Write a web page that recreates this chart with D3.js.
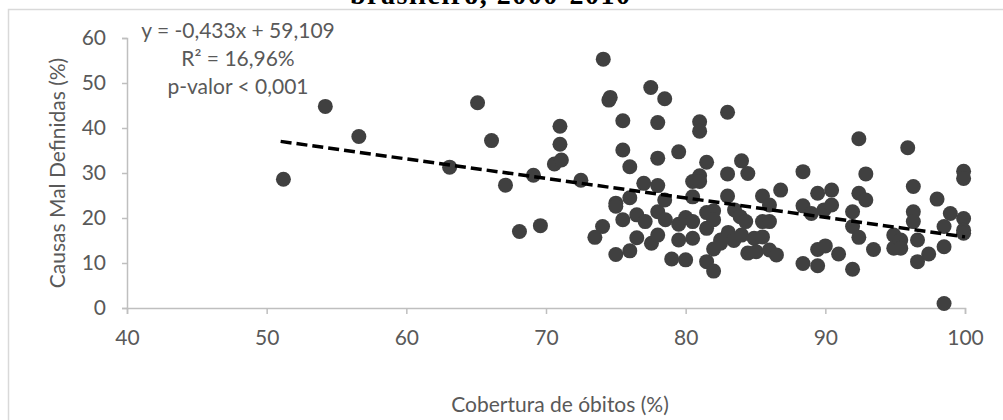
<!DOCTYPE html>
<html>
<head>
<meta charset="utf-8">
<script src="https://cdn.jsdelivr.net/npm/d3@7"></script>
<style>
  body { margin: 0; background: #fff; }
  svg { display: block; }
</style>
</head>
<body>
<svg id="svg" width="1003" height="420"></svg>
<script>
// cobertura de óbitos (%) x causas mal definidas (%)
const cobertura = [
  51.2, 54.2, 56.6, 63.1, 65.1, 66.1, 67.1, 68.1, 69.1, 69.6,
  70.6, 71.1, 71.0, 71.0, 72.5, 73.5, 74.05, 74.1, 74.5, 74.6,
  75.0, 75.0, 75.0, 75.5, 75.5, 75.5, 76.0, 76.0, 76.0, 76.5,
  76.5, 77.1, 77.0, 77.5, 77.55, 78.0, 78.0, 78.0, 78.0, 78.0,
  78.5, 78.5, 78.55, 79.0, 79.5, 79.5, 79.5, 80.0, 80.0, 80.5,
  80.5, 80.5, 80.5, 81.0, 81.0, 81.0, 81.0, 81.5, 81.5, 81.5,
  81.5, 82.0, 82.0, 82.0, 82.0, 82.5, 82.5, 83.0, 83.0, 83.0,
  83.05, 83.45, 83.5, 83.9, 84.0, 84.0, 84.3, 84.45, 84.45, 84.9,
  85.05, 85.5, 85.5, 85.5, 86.0, 86.0, 86.0, 86.5, 86.8, 88.4,
  88.4, 88.4, 89.0, 89.45, 89.45, 89.45, 89.9, 90.0, 90.45, 90.45,
  90.95, 91.95, 91.95, 91.95, 92.4, 92.4, 92.4, 92.9, 92.9, 93.45,
  94.9, 94.9, 95.4, 95.4, 95.9, 96.3, 96.3, 96.3, 96.6, 96.6,
  97.4, 98.0, 98.95, 98.5, 98.5, 98.5, 99.9, 99.9, 99.9, 99.9,
  99.9
];
const malDefinidas = [
  28.6, 44.8, 38.1, 31.3, 45.6, 37.2, 27.3, 17.0, 29.5, 18.3,
  32.0, 32.9, 36.4, 40.4, 28.4, 15.7, 18.1, 55.3, 46.2, 46.8,
  23.3, 22.6, 11.9, 41.6, 35.1, 19.6, 31.4, 24.5, 12.7, 20.7,
  15.6, 19.2, 27.7, 49.0, 14.4, 41.2, 33.3, 27.2, 21.4, 16.2,
  46.5, 24.0, 19.6, 10.9, 34.7, 18.6, 15.1, 20.1, 10.7, 28.1,
  24.7, 19.2, 15.5, 41.4, 39.3, 29.4, 28.1, 32.4, 21.2, 17.7,
  10.3, 21.6, 19.6, 13.1, 8.2, 15.1, 14.4, 43.5, 29.8, 24.9,
  16.8, 15.0, 21.8, 20.3, 32.7, 16.2, 19.2, 29.9, 12.2, 15.5,
  12.5, 24.9, 19.2, 15.8, 19.2, 22.9, 12.9, 11.8, 26.2, 30.3,
  22.7, 9.9, 21.0, 25.5, 13.0, 9.4, 21.8, 13.8, 26.2, 22.9,
  12.0, 21.4, 18.1, 8.6, 37.6, 25.5, 15.7, 29.8, 24.0, 13.0,
  16.2, 13.3, 15.1, 13.3, 35.6, 27.0, 21.4, 19.2, 15.1, 10.3,
  12.0, 24.2, 21.0, 18.1, 13.6, 1.0, 30.4, 28.8, 19.9, 17.3,
  16.6
];
const xTicks = [40, 50, 60, 70, 80, 90, 100];
const yTicks = [0, 10, 20, 30, 40, 50, 60];
const slope = -0.433, intercept = 59.109;
const trendX = [51, 100];
const equationLines = ["y = -0,433x + 59,109", "R² = 16,96%", "p-valor < 0,001"];

const font = "Lato, 'Open Sans', sans-serif";
const fontSize = 21;
const textColor = "#595959";
const axisColor = "#bfbfbf";

const svg = d3.select("#svg");
svg.append("rect").attr("width", 1003).attr("height", 420).attr("fill", "#fff");

// chart border (cut off at right / bottom)
svg.append("rect")
  .attr("x", 8.5).attr("y", 9.5)
  .attr("width", 1100).attr("height", 500)
  .attr("fill", "none").attr("stroke", "#d9d9d9").attr("stroke-width", 1.5);

// title, mostly outside the crop
svg.append("text")
  .attr("x", 490).attr("y", 4)
  .attr("text-anchor", "middle")
  .attr("font-family", "'Liberation Serif', 'DejaVu Serif', serif")
  .attr("font-weight", "bold")
  .attr("font-size", 28)
  .attr("textLength", 280)
  .attr("fill", "#000")
  .text("brasileiro, 2000-2010");

const x = d3.scaleLinear().domain([40, 100]).range([127, 965]);
const y = d3.scaleLinear().domain([0, 60]).range([308, 38]);

// y axis
const yAxis = svg.append("g").attr("transform", "translate(127,0)")
  .call(d3.axisLeft(y).tickValues(yTicks).tickSize(5).tickPadding(16));
// x axis
const xAxis = svg.append("g").attr("transform", "translate(0,308)")
  .call(d3.axisBottom(x).tickValues(xTicks).tickSize(6).tickPadding(16));

[xAxis, yAxis].forEach(g => {
  g.select(".domain").attr("stroke", axisColor).attr("stroke-width", 1.5);
  g.selectAll(".tick line").attr("stroke", axisColor).attr("stroke-width", 1.5);
  g.selectAll(".tick text")
    .attr("fill", textColor)
    .attr("font-family", font)
    .attr("font-size", fontSize);
});

// points
const pts = cobertura.map((c, i) => ({ c: c, m: malDefinidas[i] }));
svg.append("g").selectAll("circle")
  .data(pts)
  .enter().append("circle")
  .attr("cx", d => x(d.c))
  .attr("cy", d => y(d.m))
  .attr("r", 7.5)
  .attr("fill", "#404040");

// trend line
const line = d3.line().x(d => x(d)).y(d => y(slope * d + intercept));
svg.append("path")
  .attr("d", line(trendX))
  .attr("fill", "none")
  .attr("stroke", "#000")
  .attr("stroke-width", 3.5)
  .attr("stroke-dasharray", "11,5");

// equation
svg.append("g").selectAll("text")
  .data(equationLines)
  .enter().append("text")
  .attr("x", 238)
  .attr("y", (d, i) => 31 + i * 28)
  .attr("dy", "0.35em")
  .attr("text-anchor", "middle")
  .attr("font-family", font)
  .attr("font-size", fontSize)
  .attr("fill", textColor)
  .text(d => d);

// axis titles
svg.append("text")
  .attr("x", 560).attr("y", 405)
  .attr("dy", "0.35em")
  .attr("text-anchor", "middle")
  .attr("font-family", font)
  .attr("font-size", fontSize)
  .attr("fill", textColor)
  .text("Cobertura de óbitos (%)");

svg.append("text")
  .attr("transform", "translate(58,173) rotate(-90)")
  .attr("dy", "0.35em")
  .attr("text-anchor", "middle")
  .attr("font-family", font)
  .attr("font-size", fontSize)
  .attr("fill", textColor)
  .text("Causas Mal Definidas (%)");
</script>
</body>
</html>
